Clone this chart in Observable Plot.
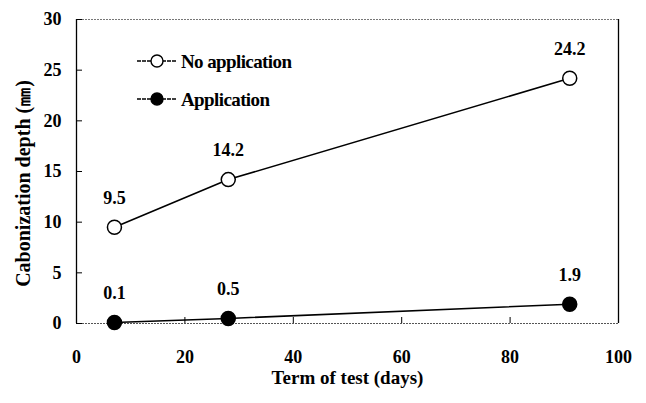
<!DOCTYPE html>
<html>
<head>
<meta charset="utf-8">
<script src="https://cdn.jsdelivr.net/npm/d3@7"></script>
<script src="https://cdn.jsdelivr.net/npm/@observablehq/plot@0.6"></script>
<style>
  html, body { margin: 0; padding: 0; background: #fff; }
  #chart { position: relative; width: 646px; height: 403px; }
  svg { font-family: "Liberation Serif", "Times New Roman", serif; }
</style>
</head>
<body>
<div id="chart"></div>
<script>
const days = [7, 28, 91];
const noApplication = [9.5, 14.2, 24.2];
const application = [0.1, 0.5, 1.9];
const seriesNames = ["No application", "Application"];
const xTicks = [0, 20, 40, 60, 80, 100];
const yTicks = [0, 5, 10, 15, 20, 25, 30];
const xTitle = "Term of test (days)";
const yTitle = "Cabonization depth (㎜)";

const rows = [
  ...days.map((d, i) => ({series: seriesNames[0], day: d, depth: noApplication[i]})),
  ...days.map((d, i) => ({series: seriesNames[1], day: d, depth: application[i]}))
];

const font = '"Liberation Serif", "Times New Roman", serif';

const chart = Plot.plot({
  width: 646,
  height: 403,
  marginLeft: 76,
  marginRight: 28,
  marginTop: 19,
  marginBottom: 80,
  style: {fontFamily: font, background: "#fff"},
  x: {domain: [0, 100], label: null},
  y: {domain: [0, 30], label: null},
  marks: [
    Plot.ruleY([30], {stroke: "#777", strokeWidth: 1, strokeDasharray: "2,1"}),
    Plot.ruleY([0], {stroke: "#555", strokeWidth: 1, strokeDasharray: "2,1"}),
    Plot.ruleX([0, 100], {stroke: "#000", strokeWidth: 1.3}),
    Plot.axisY({ticks: yTicks, tickSize: -6, text: null, stroke: "#000", label: null}),
    Plot.axisY({ticks: yTicks, tickSize: 0, tickPadding: 15, fontSize: 18, fontWeight: "bold", fill: "#000", label: null}),
    Plot.axisX({ticks: xTicks.filter(t => t > 0 && t < 100), tickSize: -6, text: null, stroke: "#000", label: null}),
    Plot.axisX({ticks: xTicks, tickSize: 0, tickPadding: 27, fontSize: 18, fontWeight: "bold", fill: "#000", label: null}),
    Plot.line(rows, {x: "day", y: "depth", z: "series", stroke: "#000", strokeWidth: 1.6}),
    Plot.dot(rows, {x: "day", y: "depth", r: 7, stroke: "#000", strokeWidth: 1.5,
      fill: d => d.series === seriesNames[0] ? "#fff" : "#000"}),
    Plot.text(rows, {x: "day", y: "depth", text: d => d.depth.toFixed(1), dy: -29,
      fontSize: 18, fontWeight: "bold", fill: "#000"}),
    Plot.text([xTitle], {frameAnchor: "bottom", dy: 60, fontSize: 19, fontWeight: "bold",
      fill: "#000", letterSpacing: "-0.6px"}),
    Plot.text([yTitle], {frameAnchor: "left", textAnchor: "middle", dx: -53, dy: 12, rotate: -90, fontSize: 20, fontWeight: "bold",
      fill: "#000"})
  ]
});

document.getElementById("chart").appendChild(chart);

// legend
const svg = d3.select(chart);
const lg = svg.append("g").attr("text-anchor", "start");
seriesNames.forEach((name, i) => {
  const y = 61 + i * 38;
  const g = lg.append("g");
  g.append("line").attr("x1", 137).attr("x2", 177).attr("y1", y).attr("y2", y)
    .attr("stroke", "#000").attr("stroke-width", 1.4).attr("stroke-dasharray", "4,1");
  g.append("circle").attr("cx", 157).attr("cy", y).attr("r", 6)
    .attr("stroke", "#000").attr("stroke-width", 1.4)
    .attr("fill", i === 0 ? "#fff" : "#000");
  g.append("text").attr("x", 181).attr("y", y).attr("dy", "0.35em")
    .attr("text-anchor", "start")
    .attr("font-size", 19).attr("font-weight", "bold").attr("letter-spacing", "-0.6px")
    .attr("fill", "#000").text(name);
});
</script>
</body>
</html>
